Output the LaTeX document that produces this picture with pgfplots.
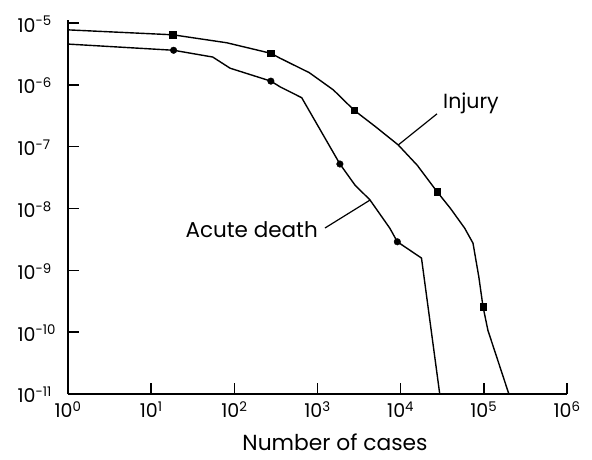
\documentclass[border=0pt]{standalone}
\usepackage{fontspec}
\setmainfont{Poppins}
\usepackage{pgfplots}
\pgfplotsset{compat=1.18}
\begin{document}
\begin{tikzpicture}[x=1pt,y=1pt]
\useasboundingbox (0,0) rectangle (592,459);
\begin{axis}[
  at={(68pt,65pt)}, anchor=south west,
  scale only axis, width=499pt, height=374pt,
  xmode=log, ymode=log,
  xmin=1, xmax=1e6, ymin=1e-11, ymax=1.12e-5,
  axis lines=left, axis line style={-, line width=1.6pt},
  tick align=inside, major tick length=11pt,
  tick style={line width=1.4pt, black},
  xminorticks=false, yminorticks=false,
  xtick={1,10,100,1000,10000,100000,1000000},
  xticklabels={10\textsuperscript{0},10\textsuperscript{1},10\textsuperscript{2},10\textsuperscript{3},10\textsuperscript{4},10\textsuperscript{5},10\textsuperscript{6}},
  ytick={1e-11,1e-10,1e-9,1e-8,1e-7,1e-6,1e-5},
  yticklabels={10\textsuperscript{-11},10\textsuperscript{-10},10\textsuperscript{-9},10\textsuperscript{-8},10\textsuperscript{-7},10\textsuperscript{-6},10\textsuperscript{-5}},
  ticklabel style={font=\fontsize{19}{21}\selectfont},
  yticklabel style={anchor=west, xshift=-54pt, yshift=-1pt},
  xticklabel style={yshift=-4pt},
  clip=false,
]
% Injury
\addplot[black, line width=1.4pt] coordinates {
 (1,7.76e-6) (18.2,6.46e-6) (81,4.8e-6) (275,3.24e-6) (355,2.7e-6)
 (794,1.58e-6) (1550,8.3e-7) (2750,3.9e-7) (5000,2.1e-7) (9330,1.07e-7)
 (15850,5.0e-8) (27500,1.86e-8) (39800,1e-8) (58900,4.8e-9) (74100,2.75e-9)
 (87100,7.8e-10) (97700,2.6e-10) (112000,1.07e-10) (200000,1e-11)
};
\addplot[black, only marks, mark=square*, mark size=3.2pt] coordinates {
 (18.2,6.46e-6) (275,3.24e-6) (2750,3.9e-7) (27500,1.86e-8) (97700,2.6e-10)
};
% Acute death
\addplot[black, line width=1.4pt] coordinates {
 (1,4.57e-6) (18.6,3.63e-6) (55,2.82e-6) (89,1.86e-6) (275,1.15e-6)
 (355,9.3e-7) (646,6.2e-7) (1860,5.25e-8) (2820,2.4e-8) (4270,1.38e-8)
 (7410,4.8e-9) (9120,2.9e-9) (17800,1.58e-9) (29500,1e-11)
};
\addplot[black, only marks, mark=*, mark size=3.3pt] coordinates {
 (18.6,3.63e-6) (275,1.15e-6) (1860,5.25e-8) (9120,2.9e-9)
};
\draw[line width=1.2pt] (axis cs:9290,1.06e-7) -- (axis cs:27350,3.4e-7);
\node[anchor=base west, inner sep=0pt, font=\fontsize{20.5}{22}\selectfont] at (axis cs:32300,4.2e-7) {Injury};
\draw[line width=1.2pt] (axis cs:4280,1.37e-8) -- (axis cs:1230,4.84e-9);
\node[anchor=base east, inner sep=0pt, font=\fontsize{21.5}{23}\selectfont] at (axis cs:1014,3.46e-9) {Acute death};
\end{axis}
\node[anchor=base, inner sep=0pt, font=\fontsize{21.8}{23}\selectfont] at (335,9) {Number of cases};
\end{tikzpicture}
\end{document}
